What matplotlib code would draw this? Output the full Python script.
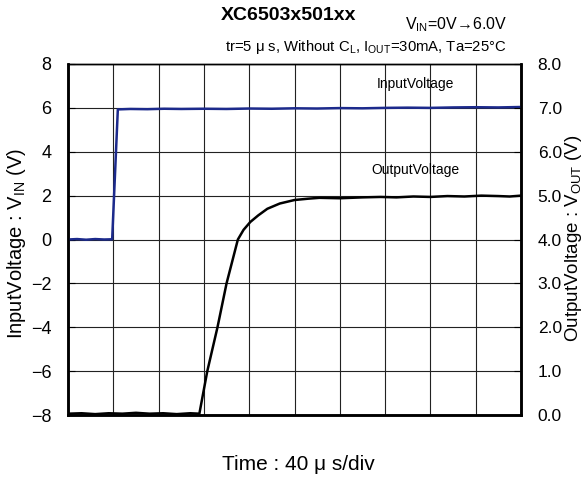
import matplotlib
matplotlib.use("Agg")
import matplotlib.pyplot as plt
from matplotlib.ticker import FormatStrFormatter, MultipleLocator

plt.rcParams["font.family"] = ["Liberation Sans", "DejaVu Sans"]
plt.rcParams["mathtext.fontset"] = "custom"
plt.rcParams["mathtext.rm"] = "Liberation Sans"
plt.rcParams["mathtext.it"] = "Liberation Sans:italic"
plt.rcParams["mathtext.fallback"] = "stixsans"
plt.rcParams["axes.unicode_minus"] = True

# time in microseconds (40 us/div, 10 divisions)
time_in = [0, 8, 16, 24, 32, 39, 44, 55, 70, 85, 100, 120, 140, 160, 180,
           200, 220, 240, 260, 280, 300, 320, 340, 360, 380, 400]
# input voltage, left axis (V)
v_in = [0.0, 0.02, -0.01, 0.02, 0.0, 0.01, 5.93, 5.95, 5.94, 5.96, 5.95,
        5.96, 5.95, 5.97, 5.96, 5.98, 5.97, 5.99, 5.98, 6.0, 6.01, 6.0,
        6.02, 6.03, 6.02, 6.04]

time_out = [0, 12, 24, 36, 48, 60, 72, 84, 96, 108, 116, 123, 132, 140, 145,
            150, 155, 161, 168, 176, 187, 200, 212, 222, 240, 260, 276, 290,
            305, 320, 335, 350, 365, 380, 390, 400]
# output voltage, right axis (V)
v_out = [0.03, 0.04, 0.02, 0.04, 0.03, 0.05, 0.03, 0.04, 0.02, 0.04, 0.03,
         1.0, 2.0, 3.0, 3.5, 4.0, 4.22, 4.4, 4.55, 4.7, 4.82, 4.9, 4.93,
         4.95, 4.94, 4.96, 4.97, 4.96, 4.98, 4.97, 4.99, 4.98, 5.0, 4.99,
         4.98, 5.0]

left_ticks = [-8, -6, -4, -2, 0, 2, 4, 6, 8]
right_ticks = [0.0, 1.0, 2.0, 3.0, 4.0, 5.0, 6.0, 7.0, 8.0]

fig = plt.figure(figsize=(5.84, 4.82), dpi=100)
ax = fig.add_axes([68 / 584, 1 - 415 / 482, 453 / 584, 351 / 482])
ax2 = ax.twinx()

ax.set_xlim(0, 400)
ax.set_ylim(-8, 8)
ax2.set_ylim(0, 8)
ax.xaxis.set_major_locator(MultipleLocator(40))
ax.set_yticks(left_ticks)
ax2.set_yticks(right_ticks)
ax2.yaxis.set_major_formatter(FormatStrFormatter("%.1f"))
ax.grid(True, color="#222222", linewidth=0.8)
ax.tick_params(axis="x", length=0, labelbottom=False)
ax.tick_params(axis="y", direction="in", length=5, width=0.8, labelsize=13, pad=12)
ax2.tick_params(axis="y", direction="in", length=5, width=0.8, labelsize=12.5, pad=12)
for a in (ax, ax2):
    for s in a.spines.values():
        s.set_color("black")
        s.set_linewidth(1.0)
    a.spines["left"].set_linewidth(1.8)
    a.spines["right"].set_linewidth(1.8)
    a.spines["bottom"].set_linewidth(1.8)

ax.plot(time_in, v_in, color="#1c2a8c", linewidth=1.8, zorder=3)
ax2.plot(time_out, v_out, color="black", linewidth=1.8, zorder=3)

ax.text(273, 7.08, "InputVoltage", fontsize=10, va="center", ha="left")
ax.text(268, 3.15, "OutputVoltage", fontsize=10, va="center", ha="left")

fig.text(17 / 584, 1 - 243 / 482, r"InputVoltage : V$_{\mathrm{IN}}$ (V)",
         fontsize=14.5, rotation=90, ha="center", va="center")
fig.text(574 / 584, 1 - 238 / 482, r"OutputVoltage : V$_{\mathrm{OUT}}$ (V)",
         fontsize=13.5, rotation=90, ha="center", va="center")

fig.text(289 / 584, 1 - 15 / 482, "XC6503x501xx", fontsize=14,
         fontweight="bold", ha="center", va="center")
fig.text(507 / 584, 1 - 25 / 482, r"V$_{\mathrm{IN}}$=0V→6.0V", fontsize=11.5,
         ha="right", va="center")
fig.text(507 / 584, 1 - 47 / 482,
         r"tr=5 μ s, Without C$_{\mathrm{L}}$, I$_{\mathrm{OUT}}$=30mA, Ta=25°C",
         fontsize=10.7, ha="right", va="center")
fig.text(298 / 584, 1 - 465 / 482, "Time : 40 μ s/div", fontsize=15,
         ha="center", va="center")

fig.savefig("out.png", dpi=100)
